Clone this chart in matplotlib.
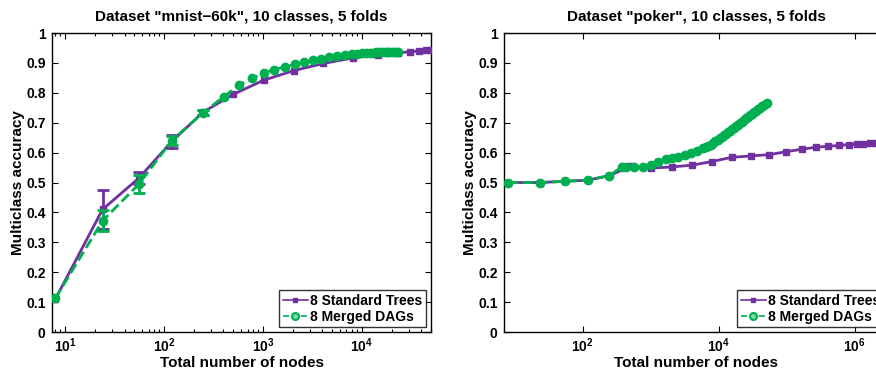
import matplotlib
matplotlib.use("Agg")
import matplotlib.pyplot as plt
import numpy as np
from matplotlib.ticker import FixedLocator, FuncFormatter, LogLocator, NullLocator

plt.rcParams['font.family'] = ['Liberation Sans', 'DejaVu Sans']
plt.rcParams['font.weight'] = 'bold'
plt.rcParams['mathtext.fontset'] = 'custom'
plt.rcParams['mathtext.rm'] = 'Liberation Sans:bold'
plt.rcParams['mathtext.bf'] = 'Liberation Sans:bold'
plt.rcParams['mathtext.it'] = 'Liberation Sans:bold'
plt.rcParams['mathtext.default'] = 'rm'

PURPLE = '#7030A0'
GREEN = '#00B050'

# ---------------- data: mnist-60k ----------------
mnist_std_x = [8, 24, 56, 120, 248, 504, 1016, 2040, 4088, 8184, 14500, 23000,
               30500, 37500, 44000, 49500]
mnist_std_y = [0.110, 0.410, 0.515, 0.637, 0.735, 0.795, 0.842, 0.874, 0.898,
               0.917, 0.928, 0.934, 0.937, 0.940, 0.942, 0.944]
mnist_std_err = [0.0, 0.065, 0.020, 0.022, 0.008, 0, 0, 0, 0, 0, 0, 0, 0, 0, 0, 0]

mnist_dag_x = [8, 24, 56, 120, 248, 403, 575, 777, 1030, 1291, 1667, 2103, 2594,
               3199, 3855, 4645, 5590, 6730, 7925, 9000, 10000, 11000, 12000,
               13000, 14000, 15000, 16000, 17000, 18000, 19000, 20000, 21000,
               22000, 23100]
mnist_dag_y = [0.113, 0.372, 0.495, 0.640, 0.733, 0.787, 0.826, 0.848, 0.867,
               0.877, 0.887, 0.896, 0.902, 0.909, 0.913, 0.920, 0.924, 0.928,
               0.930, 0.931, 0.932, 0.933, 0.934, 0.934, 0.935, 0.935, 0.936,
               0.936, 0.936, 0.937, 0.937, 0.937, 0.937, 0.937]
mnist_dag_err = [0.0, 0.035, 0.030, 0.016, 0.008] + [0.0] * 29

# ---------------- data: poker ----------------
poker_std_x = [8, 24, 56, 120, 248, 504, 1016, 2040, 4088, 7890, 15500, 29850,
               54900, 97700, 166000, 269000, 401000, 594000, 824000, 1070000,
               1340000, 1680000, 2000000, 2400000, 2900000]
poker_std_y = [0.500, 0.500, 0.504, 0.508, 0.523, 0.554, 0.548, 0.552, 0.558,
               0.570, 0.584, 0.589, 0.593, 0.603, 0.611, 0.618, 0.621, 0.624,
               0.627, 0.629, 0.630, 0.631, 0.631, 0.632, 0.633]

poker_dag_x = [8, 24, 56, 120, 248, 380, 440, 570, 775, 1010, 1300, 1680, 2050,
               2550, 3190, 3900, 4850, 5950, 6500, 7100, 7700, 8300, 9000,
               9700, 10400, 11200, 12000, 12900, 13800, 14800, 15900, 17000,
               18200, 19500, 20900, 22400, 24000, 25700, 27500, 29400, 31500,
               33700, 36000, 38500, 41200, 44000, 47000, 50700]
poker_dag_y = [0.500, 0.500, 0.504, 0.508, 0.523, 0.553, 0.553, 0.551, 0.553,
               0.557, 0.568, 0.578, 0.582, 0.586, 0.592, 0.598, 0.605, 0.614,
               0.618, 0.622, 0.627, 0.632, 0.638, 0.643, 0.648, 0.653, 0.658,
               0.663, 0.668, 0.673, 0.678, 0.683, 0.688, 0.693, 0.699, 0.704,
               0.709, 0.715, 0.720, 0.725, 0.730, 0.735, 0.740, 0.745, 0.750,
               0.755, 0.760, 0.765]

y_ticks = [0, 0.1, 0.2, 0.3, 0.4, 0.5, 0.6, 0.7, 0.8, 0.9, 1]

W, H = 876, 371
fig = plt.figure(figsize=(W / 100, H / 100), dpi=100)
ax1 = fig.add_axes([52 / W, (H - 332) / H, 379 / W, 299 / H])
ax2 = fig.add_axes([504 / W, (H - 332) / H, 385 / W, 299 / H])


def style(ax, title, xlim, majors, minors):
    ax.set_xscale('log')
    ax.set_xlim(*xlim)
    ax.set_ylim(0, 1)
    ax.yaxis.set_major_locator(FixedLocator(y_ticks))
    ax.yaxis.set_major_formatter(FuncFormatter(lambda v, p: '%g' % v))
    ax.xaxis.set_major_locator(FixedLocator(majors))
    ax.xaxis.set_major_formatter(FuncFormatter(
        lambda v, p: r'$10^{%d}$' % int(round(np.log10(v)))))
    if minors:
        ax.xaxis.set_minor_locator(LogLocator(base=10, subs=np.arange(2, 10)))
    else:
        ax.xaxis.set_minor_locator(NullLocator())
    ax.tick_params(which='both', direction='in', top=True, right=True,
                   labelsize=10, width=0.8)
    ax.tick_params(which='major', length=4.5)
    ax.tick_params(axis='x', which='major', pad=3)
    ax.tick_params(axis='y', which='major', pad=4.5)
    ax.tick_params(which='minor', length=2.5)
    for s in ax.spines.values():
        s.set_linewidth(1.0)
    ax.set_title(title, fontsize=11, fontweight='bold', pad=9)
    ax.set_xlabel('Total number of nodes', fontsize=11, fontweight='bold', labelpad=1)
    ax.set_ylabel('Multiclass accuracy', fontsize=11, fontweight='bold', labelpad=1)


def draw(ax, sx, sy, dx, dy, serr=None, derr=None):
    ax.plot(sx, sy, '-', color=PURPLE, lw=2, marker='s', ms=4, mec=PURPLE,
            mfc=PURPLE, label='8 Standard Trees', zorder=3)
    if serr is not None:
        m = np.array(serr) > 0
        ax.errorbar(np.array(sx)[m], np.array(sy)[m], yerr=np.array(serr)[m],
                    fmt='none', ecolor=PURPLE, elinewidth=2, capsize=4,
                    capthick=2, zorder=3)
    ax.plot(dx, dy, '--', color=GREEN, lw=2, marker='o', ms=6, mec=GREEN,
            mfc=GREEN, label='8 Merged DAGs', zorder=4)
    if derr is not None:
        m = np.array(derr) > 0
        ax.errorbar(np.array(dx)[m], np.array(dy)[m], yerr=np.array(derr)[m],
                    fmt='none', ecolor=GREEN, elinewidth=2, capsize=4,
                    capthick=2, zorder=4)


draw(ax1, mnist_std_x, mnist_std_y, mnist_dag_x, mnist_dag_y,
     mnist_std_err, mnist_dag_err)
style(ax1, 'Dataset "mnist\u221260k", 10 classes, 5 folds', (7.4, 5.0e4),
      [1e1, 1e2, 1e3, 1e4], True)

draw(ax2, poker_std_x, poker_std_y, poker_dag_x, poker_dag_y)
style(ax2, 'Dataset "poker", 10 classes, 5 folds', (7.0, 3.2e6),
      [1e2, 1e4, 1e6], False)


def legend(ax):
    h = [
        plt.Line2D([], [], color=PURPLE, lw=1.2, marker='s', ms=3, mec=PURPLE, mfc=PURPLE),
        plt.Line2D([], [], color=GREEN, lw=1.2, ls='--', marker='o', ms=5,
                   mec=GREEN, mfc='#80d8a8', mew=1.5),
    ]
    lg = ax.legend(h, ['8 Standard Trees', '8 Merged DAGs'], loc='lower right',
                   frameon=True, fancybox=False, handlelength=1.8,
                   handletextpad=0.2, borderpad=0.25, labelspacing=0.15,
                   borderaxespad=0.35, prop={'weight': 'bold', 'size': 10})
    lg.get_frame().set_edgecolor('black')
    lg.get_frame().set_linewidth(1.0)


legend(ax1)
legend(ax2)

fig.savefig('out.png', dpi=100)
